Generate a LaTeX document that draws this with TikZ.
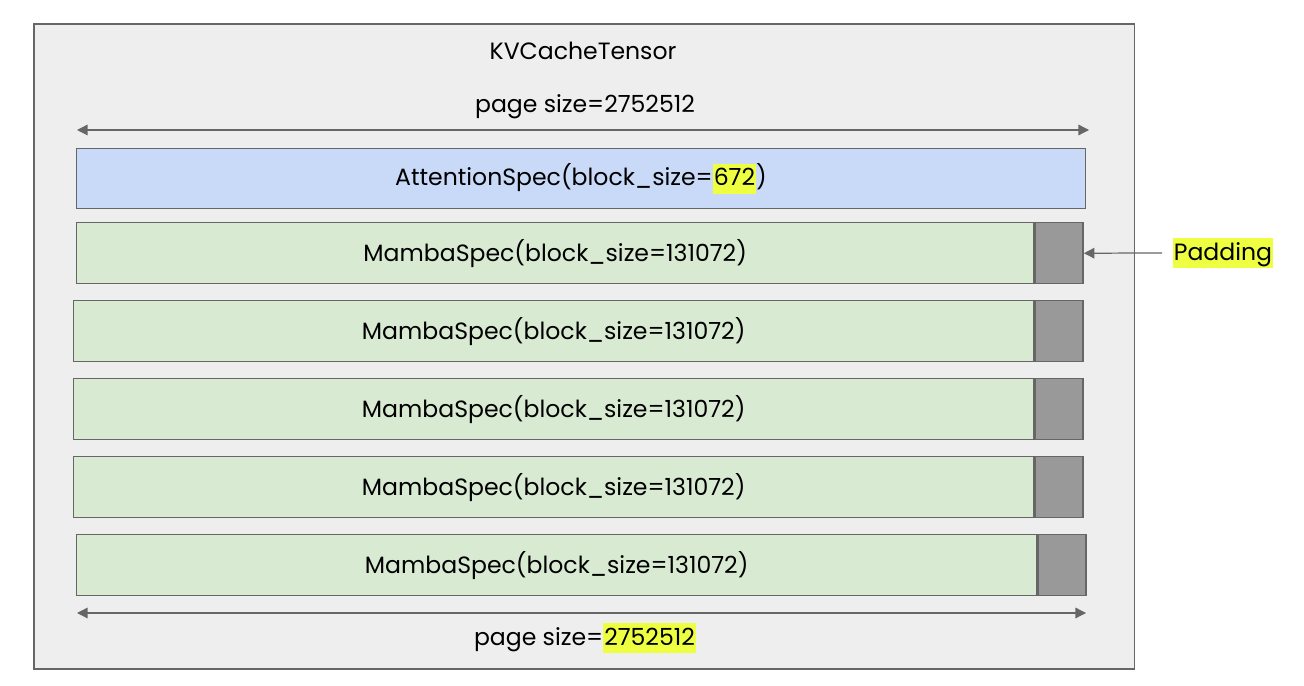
\documentclass[tikz,border=0pt]{standalone}
\usepackage{fontspec}
\setmainfont{Poppins}
\usepackage{xcolor}
\usetikzlibrary{arrows.meta,positioning}

\definecolor{framegray}{HTML}{666666}
\definecolor{tensorbg}{HTML}{EEEEEE}
\definecolor{attnblue}{HTML}{C9DAF8}
\definecolor{mambagreen}{HTML}{D9EAD3}
\definecolor{padgray}{HTML}{999999}
\definecolor{hilite}{HTML}{EEFF41}

\newcommand{\hl}[1]{{\setlength{\fboxsep}{0.3pt}\colorbox{hilite}{\rule[-0.3em]{0pt}{1.2em}#1}}}

\tikzset{
  lbl/.style={font=\fontsize{6.7}{8}\selectfont, text=black, inner sep=0pt},
  specbox/.style={draw=framegray, line width=0.4pt, anchor=north west},
  padbox/.style={draw=framegray, fill=padgray, line width=0.4pt, anchor=north west},
  dim/.style={draw=framegray, line width=0.35pt, {Triangle[length=3pt,width=3pt]}-{Triangle[length=3pt,width=3pt]}},
}

\begin{document}
\begin{tikzpicture}[x=0.01cm, y=-0.01cm]
    \useasboundingbox (0,0) rectangle (1304,686);

    % Outer tensor
    \node[draw=framegray, fill=tensorbg, line width=0.5pt, anchor=north west,
          minimum width=11cm, minimum height=6.45cm, inner sep=0pt] (tensor) at (33,23) {};
    \node[lbl] (title) at (583,51) {KVCacheTensor};

    % Top page size
    \node[lbl] (toplbl) at (585,107) {page size=2752512};
    \coordinate (topL) at (77,130);
    \coordinate (topR) at (1089,130);
    \draw[dim] (topL) -- (topR);

    % Attention spec
    \node[specbox, fill=attnblue, minimum width=10.08cm, minimum height=0.6cm] (attn) at (76,148) {};
    \node[lbl] at (attn.center) {AttentionSpec(block\_size=\hl{672})};

    % Mamba specs with padding
    \foreach \i/\x/\y/\w in {1/76/222/957, 2/73/300/960, 3/73/378/960, 4/73/456/960, 5/76/534/960} {
        \node[specbox, fill=mambagreen, minimum width=\w*0.01cm, minimum height=0.61cm] (mamba\i) at (\x,\y) {};
        \node[padbox, minimum width=0.48cm, minimum height=0.61cm] (pad\i) at (mamba\i.north east) {};
        \node[lbl] at (mamba\i.center) {MambaSpec(block\_size=131072)};
    }

    % Padding label
    \node[lbl] (padlbl) at (1223,253) {\hl{Padding}};
    \coordinate (padtail) at (1162,253);
    \draw[draw=framegray, line width=0.35pt, -{Triangle[length=3pt,width=3pt]}] (padtail) -- (pad1.east);

    % Bottom page size
    \coordinate (botL) at (77,613);
    \coordinate (botR) at (1086,613);
    \draw[dim] (botL) -- (botR);
    \node[lbl] (botlbl) at (585,638) {page size=\hl{2752512}};
\end{tikzpicture}
\end{document}
